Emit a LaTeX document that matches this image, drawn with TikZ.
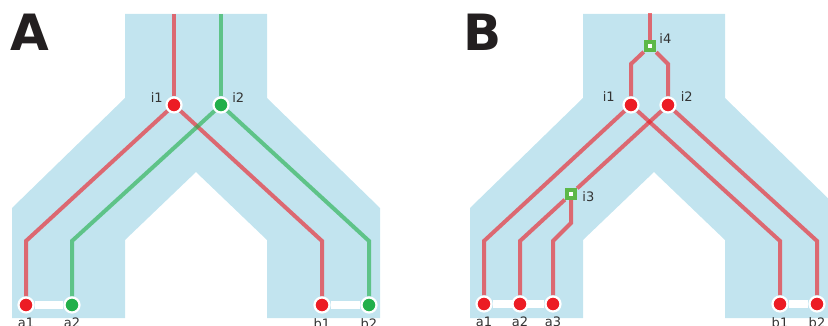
\documentclass[tikz,border=0pt]{standalone}
\usepackage{fontspec}
\setmainfont{DejaVu Sans}
\usetikzlibrary{positioning,backgrounds}

\definecolor{chanblue}{HTML}{C2E4EF}
\definecolor{pinred}{HTML}{EC1C24}
\definecolor{pingreen}{HTML}{22AF4A}
\definecolor{viagreen}{HTML}{5CB848}
\definecolor{tagtext}{HTML}{333333}
\definecolor{titletext}{HTML}{231F20}

\tikzset{
  panel/.style={font=\fontsize{50}{50}\bfseries\selectfont, text=titletext, inner sep=0pt},
  term/.style={circle, draw=white, line width=2.2pt, minimum size=15pt, inner sep=0pt},
  termred/.style={term, fill=pinred},
  termgreen/.style={term, fill=pingreen},
  viasq/.style={rectangle, draw=viagreen, fill=white, line width=4.6pt, minimum size=7.8pt, inner sep=0pt},
  tag/.style={font=\fontsize{13}{13}\selectfont, text=tagtext, inner sep=1pt},
  wire/.style={line width=4pt, draw opacity=0.62},
  redwire/.style={wire, draw=pinred},
  greenwire/.style={wire, draw=pingreen},
  bridge/.style={draw=white, line width=7.5pt}
}

% blue channel outline, shifted by #1
\newcommand{\channelshape}[1]{%
  \fill[chanblue, xshift=#1] (125,14) -- (267,14) -- (267,98) -- (380,208) -- (380,318)
    -- (267,318) -- (267,240) -- (196,172) -- (125,240) -- (125,318)
    -- (12,318) -- (12,208) -- (125,98) -- cycle;}

\begin{document}
\begin{tikzpicture}[x=1pt, y=-1pt]
  \useasboundingbox (0,0) rectangle (828,326);

  % panel letters
  \node[panel] (A-title) at (30,32) {A};
  \node[panel] (B-title) at (483,32) {B};

  % ---------- panel A ----------
  % 1. terminals and branch points
  \node[termred]   (A-i1) at (174,105) {};
  \node[termgreen] (A-i2) at (221,105) {};
  \node[termred]   (A-a1) at (26,305) {};
  \node[termgreen] (A-a2) at (72,305) {};
  \node[termred]   (A-b1) at (322,305) {};
  \node[termgreen] (A-b2) at (369,305) {};

  % 2. labels
  \node[tag, left=1.5pt of A-i1, yshift=7pt]  (A-i1-t) {i1};
  \node[tag, right=1.5pt of A-i2, yshift=7pt] (A-i2-t) {i2};
  \node[tag, below=3.5pt of A-a1] (A-a1-t) {a1};
  \node[tag, below=3.5pt of A-a2] (A-a2-t) {a2};
  \node[tag, below=3.5pt of A-b1] (A-b1-t) {b1};
  \node[tag, below=3.5pt of A-b2] (A-b2-t) {b2};

  % 3. bends
  \coordinate (A-top1) at (174,14);
  \coordinate (A-top2) at (221,14);
  \coordinate (A-k1) at (26,241);
  \coordinate (A-k2) at (72,241);
  \coordinate (A-k3) at (322,241);
  \coordinate (A-k4) at (369,241);

  % ---------- panel B ----------
  % 1. terminals, branch points and vias
  \node[viasq]   (B-i4) at (650,46) {};
  \node[termred] (B-i1) at (631,105) {};
  \node[termred] (B-i2) at (668,105) {};
  \node[viasq]   (B-i3) at (571,194) {};
  \node[termred] (B-a1) at (484,304) {};
  \node[termred] (B-a2) at (520,304) {};
  \node[termred] (B-a3) at (553,304) {};
  \node[termred] (B-b1) at (780,304) {};
  \node[termred] (B-b2) at (817,304) {};

  % 2. labels
  \node[tag, right=2pt of B-i4, yshift=7pt]  (B-i4-t) {i4};
  \node[tag, left=6.5pt of B-i1, yshift=8pt] (B-i1-t) {i1};
  \node[tag, right=3pt of B-i2, yshift=8pt]  (B-i2-t) {i2};
  \node[tag, right=4pt of B-i3, yshift=-3pt] (B-i3-t) {i3};
  \node[tag, below=3.5pt of B-a1] (B-a1-t) {a1};
  \node[tag, below=3.5pt of B-a2] (B-a2-t) {a2};
  \node[tag, below=3.5pt of B-a3] (B-a3-t) {a3};
  \node[tag, below=3.5pt of B-b1] (B-b1-t) {b1};
  \node[tag, below=3.5pt of B-b2] (B-b2-t) {b2};

  % 3. bends
  \coordinate (B-top) at (650,13);
  \coordinate (B-k1) at (631,64);
  \coordinate (B-k2) at (668,64);
  \coordinate (B-k3) at (484,241);
  \coordinate (B-k4) at (520,241);
  \coordinate (B-k5) at (571,223);
  \coordinate (B-k6) at (553,241);
  \coordinate (B-k7) at (780,241);
  \coordinate (B-k8) at (817,241);

  % ---------- channels, bridges and wires ----------
  \begin{scope}[on background layer]
    \channelshape{0pt}
    \channelshape{458pt}

    \draw[bridge] (A-a1) -- (A-a2);
    \draw[bridge] (A-b1) -- (A-b2);
    \draw[bridge] (B-a1) -- (B-a3);
    \draw[bridge] (B-b1) -- (B-b2);

    % panel A nets
    \draw[redwire] (A-top1) -- (A-i1);
    \draw[redwire] (A-i1) -- (A-k1) -- (A-a1);
    \draw[redwire] (A-i1) -- (A-k3) -- (A-b1);
    \draw[greenwire] (A-top2) -- (A-i2);
    \draw[greenwire] (A-i2) -- (A-k2) -- (A-a2);
    \draw[greenwire] (A-i2) -- (A-k4) -- (A-b2);

    % panel B net
    \draw[redwire] (B-top) -- (B-i4);
    \draw[redwire] (B-i4) -- (B-k1) -- (B-i1);
    \draw[redwire] (B-i4) -- (B-k2) -- (B-i2);
    \draw[redwire] (B-i1) -- (B-k3) -- (B-a1);
    \draw[redwire] (B-i1) -- (B-k7) -- (B-b1);
    \draw[redwire] (B-i2) -- (B-k8) -- (B-b2);
    \draw[redwire] (B-i2) -- (B-i3);
    \draw[redwire] (B-i3) -- (B-k4) -- (B-a2);
    \draw[redwire] (B-i3) -- (B-k5) -- (B-k6) -- (B-a3);
  \end{scope}
\end{tikzpicture}
\end{document}
